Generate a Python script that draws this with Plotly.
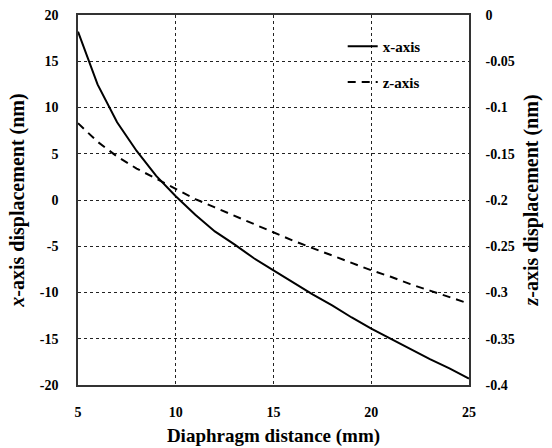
import plotly.graph_objects as go

distance_mm = [5, 6, 7, 8, 9, 10, 11, 12, 13, 14, 15, 16, 17, 18, 19, 20, 21, 22, 23, 24, 25]
x_disp_nm = [18.2, 12.5, 8.4, 5.3, 2.6, 0.4, -1.6, -3.4, -4.8, -6.3, -7.6, -8.9, -10.2,
             -11.4, -12.7, -13.9, -15.0, -16.1, -17.2, -18.2, -19.3]
z_disp_nm = [-0.117, -0.137, -0.153, -0.166, -0.177, -0.188, -0.199, -0.208, -0.217, -0.226,
             -0.235, -0.244, -0.252, -0.260, -0.268, -0.276, -0.283, -0.291, -0.298, -0.305, -0.312]

x_ticks = [5, 10, 15, 20, 25]
y1_ticks = [20, 15, 10, 5, 0, -5, -10, -15, -20]
y1_ticktext = ["20", "15", "10", "5", "0", "-5", "-10", "-15", "-20"]
y2_ticks = [0, -0.05, -0.1, -0.15, -0.2, -0.25, -0.3, -0.35, -0.4]
y2_ticktext = ["0", "-0.05", "-0.1", "-0.15", "-0.2", "-0.25", "-0.3", "-0.35", "-0.4"]

FONT = "Liberation Serif"

fig = go.Figure()
fig.add_trace(go.Scatter(x=distance_mm, y=x_disp_nm, mode="lines", name="x-axis",
                         line=dict(color="black", width=2), legend="legend"))
fig.add_trace(go.Scatter(x=distance_mm, y=z_disp_nm, mode="lines", name="z-axis", yaxis="y2",
                         line=dict(color="black", width=2, dash="8px,6px"), legend="legend2"))

fig.update_layout(
    width=552, height=448,
    showlegend=True,
    margin=dict(l=78, r=83, t=15, b=63),
    paper_bgcolor="white", plot_bgcolor="white",
    font=dict(family=FONT, color="black", size=14),
    xaxis=dict(range=[5, 25], tickvals=x_ticks, ticks="", showline=True, mirror=True,
               automargin=False,
               linecolor="#333", linewidth=1.5, showgrid=True, gridcolor="#222", griddash="dot",
               gridwidth=1, zeroline=False, tickfont=dict(family=FONT, size=14, weight="bold"),
               ticklabelstandoff=13,
               title=dict(text="<b>Diaphragm distance (mm)</b>", font=dict(family=FONT, size=19),
                          standoff=10)),
    yaxis=dict(range=[-20, 20], tickvals=y1_ticks, ticktext=y1_ticktext, ticks="",
               automargin=False,
               showline=True, linecolor="#333", linewidth=1.5, showgrid=True, gridcolor="#222",
               griddash="dot", gridwidth=1, zeroline=False,
               tickfont=dict(family=FONT, size=14, weight="bold"), ticklabelstandoff=15,
               title=dict(text="<b><i>x</i>-axis displacement (nm)</b>",
                          font=dict(family=FONT, size=20), standoff=10)),
    yaxis2=dict(range=[-0.4, 0], tickvals=y2_ticks, ticktext=y2_ticktext, overlaying="y",
                automargin=False,
                side="right", ticks="", showline=True, linecolor="#333", linewidth=1.5,
                showgrid=False, zeroline=False,
                tickfont=dict(family=FONT, size=14, weight="bold"), ticklabelstandoff=12,
                title=dict(text="<b><i>z</i>-axis displacement (nm)</b>",
                           font=dict(family=FONT, size=20), standoff=10)),
    legend=dict(x=0.677, y=0.915, xanchor="left", yanchor="middle", bgcolor="rgba(0,0,0,0)",
                font=dict(family=FONT, size=15, weight="bold")),
    legend2=dict(x=0.677, y=0.818, xanchor="left", yanchor="middle", bgcolor="rgba(0,0,0,0)",
                 font=dict(family=FONT, size=15, weight="bold")),
)

fig.write_html("out.html")
